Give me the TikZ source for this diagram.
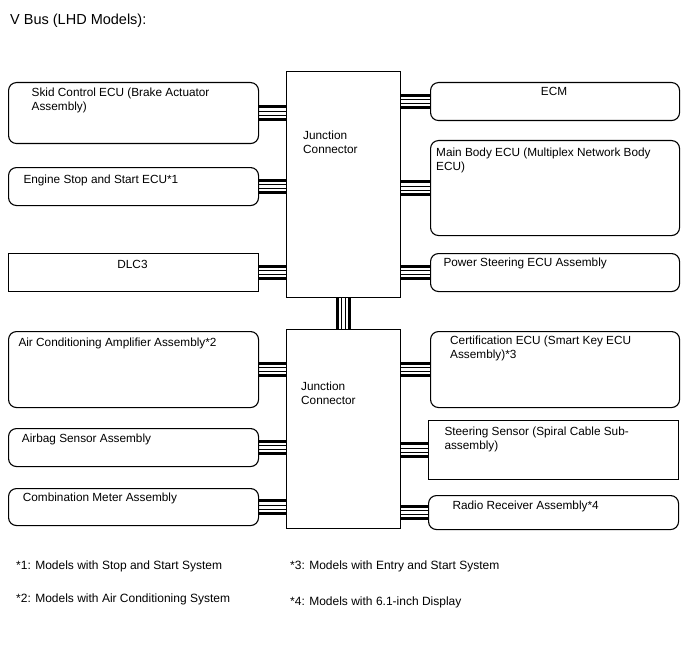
\documentclass[tikz,border=0pt]{standalone}
\usepackage{fontspec}
\setmainfont{Liberation Sans}
\usetikzlibrary{calc}

\tikzset{
  ecu/.style={draw, line width=1.1pt, rounded corners=8pt, inner sep=0pt, anchor=north west},
  flatbox/.style={draw, line width=1.1pt, inner sep=0pt, anchor=north west},
  txt/.style={anchor=base west, inner sep=0pt, align=left, font=\fontsize{11.8}{13.8}\selectfont},
  note/.style={anchor=base west, inner sep=0pt, font=\fontsize{12}{13}\selectfont},
}

% bus wires: thick - thin - thin - thick
\newcommand\hbus[2]{%
  \foreach \d/\w in {-6.3/3.2,-2/0.8,2/0.8,6.3/3.2}
    \draw[line width=\w pt] ($(#1)+(0,\d)$) -- ($(#2)+(0,\d)$);}
\newcommand\vbus[2]{%
  \foreach \d/\w in {-6.3/3.2,-2/0.8,2/0.8,6.3/3.2}
    \draw[line width=\w pt] ($(#1)+(\d,0)$) -- ($(#2)+(\d,0)$);}

\begin{document}
\begin{tikzpicture}[x=1pt,y=-1pt]
  \useasboundingbox (0,0) rectangle (688,658);

  \node[anchor=base west, inner sep=0pt, font=\fontsize{14.5}{16}\selectfont] (title) at (10,25) {V Bus (LHD Models):};

  % junction connectors (multi-line text: base = last line)
  \node[flatbox, minimum width=114pt, minimum height=226pt] (jtop) at (286,71) {};
  \node[flatbox, minimum width=114pt, minimum height=199pt] (jbot) at (286,329) {};
  \node[txt] (jtoptxt) at (303,153.5) {Junction\\Connector};
  \node[txt] (jbottxt) at (301,404.5) {Junction\\Connector};

  % left side
  \node[ecu, minimum width=250pt, minimum height=61pt] (skid) at (8,82) {};
  \node[ecu, minimum width=250pt, minimum height=38pt] (ess) at (8,167) {};
  \node[flatbox, minimum width=250pt, minimum height=38pt] (dlc) at (8,253) {};
  \node[ecu, minimum width=250pt, minimum height=76pt] (acamp) at (8,331) {};
  \node[ecu, minimum width=250pt, minimum height=38pt] (airbag) at (8,428) {};
  \node[ecu, minimum width=250pt, minimum height=37pt] (meter) at (8,488) {};

  \node[txt] (skidtxt) at (31.5,110.5) {Skid Control ECU (Brake Actuator\\Assembly)};
  \node[txt] (esstxt) at (23.3,183) {Engine Stop and Start ECU*1};
  \node[txt, anchor=base] (dlctxt) at (132.5,268.3) {DLC3};
  \node[txt] (acamptxt) at (18.3,346) {Air Conditioning Amplifier Assembly*2};
  \node[txt] (airbagtxt) at (21.7,442.7) {Airbag Sensor Assembly};
  \node[txt] (metertxt) at (22.7,501) {Combination Meter Assembly};

  % right side
  \node[ecu, minimum width=249pt, minimum height=38pt] (ecm) at (430,82) {};
  \node[ecu, minimum width=249pt, minimum height=95pt] (mainbody) at (430,140) {};
  \node[ecu, minimum width=249pt, minimum height=38pt] (pseps) at (430,253) {};
  \node[ecu, minimum width=249pt, minimum height=76pt] (certif) at (430,331) {};
  \node[flatbox, minimum width=250pt, minimum height=59pt] (steer) at (428,420) {};
  \node[ecu, minimum width=250pt, minimum height=34pt] (radio) at (428,495) {};

  \node[txt, anchor=base] (ecmtxt) at (554,96) {ECM};
  \node[txt] (mainbodytxt) at (436,170.5) {Main Body ECU (Multiplex Network Body\\ECU)};
  \node[txt] (psepstxt) at (443.3,266.7) {Power Steering ECU Assembly};
  \node[txt] (certiftxt) at (450,358) {Certification ECU (Smart Key ECU\\Assembly)*3};
  \node[txt] (steertxt) at (444.3,449) {Steering Sensor (Spiral Cable Sub-\\assembly)};
  \node[txt] (radiotxt) at (452.3,509.3) {Radio Receiver Assembly*4};

  % buses
  \foreach \n in {skid,ess,dlc}
    \hbus{\n.east}{\n.east -| jtop.west};
  \foreach \n in {acamp,airbag,meter}
    \hbus{\n.east}{\n.east -| jbot.west};
  \foreach \n in {ecm,mainbody,pseps}
    \hbus{jtop.east |- \n.west}{\n.west};
  \foreach \n in {certif,steer,radio}
    \hbus{jbot.east |- \n.west}{\n.west};
  \vbus{jtop.south}{jbot.north};

  % notes
  \node[note] (n1) at (16,569) {*1: Models with Stop and Start System};
  \node[note] (n2) at (16,602) {*2: Models with Air Conditioning System};
  \node[note] (n3) at (290,569) {*3: Models with Entry and Start System};
  \node[note] (n4) at (290,605) {*4: Models with 6.1-inch Display};
\end{tikzpicture}
\end{document}
